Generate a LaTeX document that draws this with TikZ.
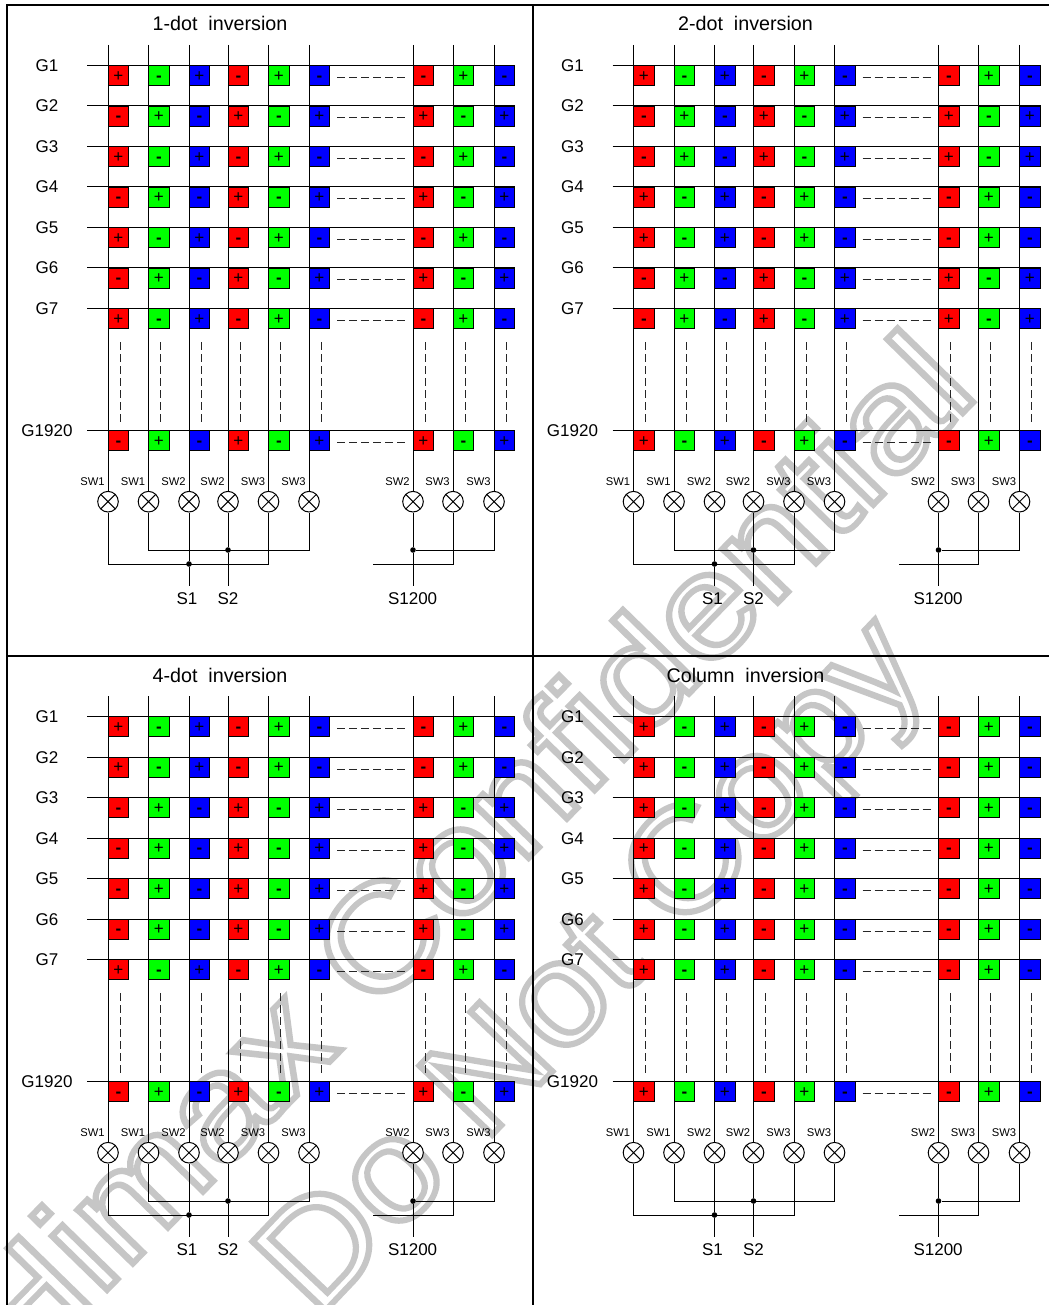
\documentclass[tikz,border=0pt]{standalone}
\usepackage{fontspec}
\setmainfont{Liberation Sans}
\newcommand\fs[1]{\fontsize{#1}{#1}\selectfont}
\tikzset{
  wire/.style={draw=black,line width=1pt},
  framewire/.style={draw=black,line width=2pt},
  dashwire/.style={draw=black!85,line width=1pt,dash pattern=on 8pt off 4pt},
  cell/.style={draw=black,line width=1pt,minimum size=20.3pt,inner sep=0pt,text height=11pt,text depth=0pt,font=\fs{17}},
  switchnode/.style={circle,draw=black,fill=white,line width=1pt,minimum size=20.6pt,inner sep=0pt,
    path picture={\draw[line width=1pt] (path picture bounding box.north west)--(path picture bounding box.south east)
      (path picture bounding box.north east)--(path picture bounding box.south west);}},
  junction/.style={circle,fill=black,minimum size=5.6pt,inner sep=0pt},
  gatelabel/.style={anchor=base,inner sep=0pt,font=\fs{17}},
  swlabel/.style={anchor=base,inner sep=0pt,font=\fs{11.2}},
  titlelabel/.style={anchor=base,inner sep=0pt,font=\fs{19.7}},
  watermark/.style={anchor=base west,inner sep=0pt,font=\fs{146}},
}
\newcommand\outlinetext[1]{\special{pdf:code 1 Tr 6 w 0.776 G}#1\special{pdf:code 0 Tr 1 w 0 G}}
\newcommand\panel[5]{%
\begin{scope}[shift={(#2,#3)}]
  \node[titlelabel] (#1-title) at (220,31) {#4};
  % switches and columns
  \foreach \cx/\sl [count=\k] in {108/SW1,148.5/SW1,189/SW2,228/SW2,268.5/SW3,309/SW3,413/SW2,453/SW3,494/SW3}{
    \coordinate (#1-top\k) at (\cx,45);
    \node[switchnode] (#1-sw\k) at (\cx,501.7) {};
    \node[swlabel] (#1-swl\k) at (\cx-15.5,485) {\sl};
    \draw[wire] (#1-top\k) -- (#1-sw\k.north);
    \coordinate (#1-vda\k) at (\cx+12,342);
    \coordinate (#1-vdb\k) at (\cx+12,424);
    \draw[dashwire] (#1-vda\k) -- (#1-vdb\k);
  }
  % buses
  \coordinate (#1-b1l) at (108,564); \coordinate (#1-b1r) at (268.5,564);
  \coordinate (#1-b2l) at (148.5,550); \coordinate (#1-b2r) at (309,550);
  \coordinate (#1-b3l) at (373,564); \coordinate (#1-b3r) at (453,564);
  \coordinate (#1-b4r) at (494,550);
  \node[junction] (#1-j1) at (189,564) {};
  \node[junction] (#1-j2) at (228,550) {};
  \node[junction] (#1-j3) at (413,550) {};
  \coordinate (#1-e1) at (189,586); \coordinate (#1-e2) at (228,586); \coordinate (#1-e3) at (413,586);
  \draw[wire] (#1-sw1.south) -- (#1-b1l) -- (#1-b1r) -- (#1-sw5.south);
  \draw[wire] (#1-sw2.south) -- (#1-b2l) -- (#1-b2r) -- (#1-sw6.south);
  \draw[wire] (#1-sw3.south) -- (#1-j1) -- (#1-e1);
  \draw[wire] (#1-sw4.south) -- (#1-j2) -- (#1-e2);
  \draw[wire] (#1-sw7.south) -- (#1-j3) -- (#1-e3);
  \draw[wire] (#1-sw8.south) -- (#1-b3r) -- (#1-b3l);
  \draw[wire] (#1-sw9.south) -- (#1-b4r) -- (#1-j3);
  \node[gatelabel] (#1-s1) at (187,604) {S1};
  \node[gatelabel] (#1-s2) at (228,604) {S2};
  \node[gatelabel] (#1-s3) at (412.6,604) {S1200};
  % rows
  \foreach \pol/\gy/\gn [count=\r] in {#5}{
    \node[gatelabel] (#1-g\r) at (47,\gy+6) {\gn};
    \coordinate (#1-gl\r) at (87,\gy);
    \coordinate (#1-gr\r) at (515,\gy);
    \draw[wire] (#1-gl\r) -- (#1-gr\r);
    \coordinate (#1-hda\r) at (337,\gy+12);
    \coordinate (#1-hdb\r) at (406,\gy+12);
    \draw[dashwire] (#1-hda\r) -- (#1-hdb\r);
    \foreach \cx/\cc/\sa [count=\k] in {108/red/+,148.5/green/-,189/blue/+,228/red/-,268.5/green/+,309/blue/-,413/red/-,453/green/+,494/blue/-}{
      \if\pol A\def\sg{\sa}\else\if\sa+\def\sg{\textbf{-}}\else\def\sg{+}\fi\fi
      \if\sg-\def\sg{\textbf{-}}\fi
      \node[cell,fill=\cc] (#1-c\r-\k) at (\cx+10.4,\gy+10.2) {\sg};
    }
  }
\end{scope}}
\begin{document}
\begin{tikzpicture}[x=1pt,y=-1pt]
\useasboundingbox (0,0) rectangle (1049,1305);
\fill[white] (0,0) rectangle (1049,1305);
% watermark under everything
\begin{scope}[shift={(16.5,1382.7)},rotate=45.7,xscale=1.127,transform shape]
\node[watermark] (wm1) at (0,0) {\outlinetext{Himax Confidential}};
\end{scope}
\begin{scope}[shift={(316.5,1320)},rotate=46.5,xscale=1.068,transform shape]
\node[watermark] (wm2) at (0,0) {\outlinetext{Do Not Copy}};
\end{scope}
\panel{a}{0}{0}{1-dot\ \ inversion}{A/65.5/G1,B/106/G2,A/146.5/G3,B/187/G4,A/227.5/G5,B/268/G6,A/308.5/G7,B/430.5/G1920}
\panel{b}{525.5}{0}{2-dot\ \ inversion}{A/65.5/G1,B/106/G2,B/146.5/G3,A/187/G4,A/227.5/G5,B/268/G6,B/308.5/G7,A/430.5/G1920}
\panel{c}{0}{651}{4-dot\ \ inversion}{A/65.5/G1,A/106/G2,B/146.5/G3,B/187/G4,B/227.5/G5,B/268/G6,A/308.5/G7,B/430.5/G1920}
\panel{d}{525.5}{651}{Column\ \ inversion}{A/65.5/G1,A/106/G2,A/146.5/G3,A/187/G4,A/227.5/G5,A/268/G6,A/308.5/G7,A/430.5/G1920}
% frame
\coordinate (f-tl) at (7,5); \coordinate (f-tr) at (1049,5);
\coordinate (f-bl) at (7,1305); \coordinate (f-mt) at (532.5,5); \coordinate (f-mb) at (532.5,1305);
\coordinate (f-ml) at (7,656); \coordinate (f-mr) at (1049,656);
\draw[framewire] (f-bl) -- (f-tl) -- (f-tr);
\draw[framewire] (f-mt) -- (f-mb);
\draw[framewire] (f-ml) -- (f-mr);
\end{tikzpicture}
\end{document}
